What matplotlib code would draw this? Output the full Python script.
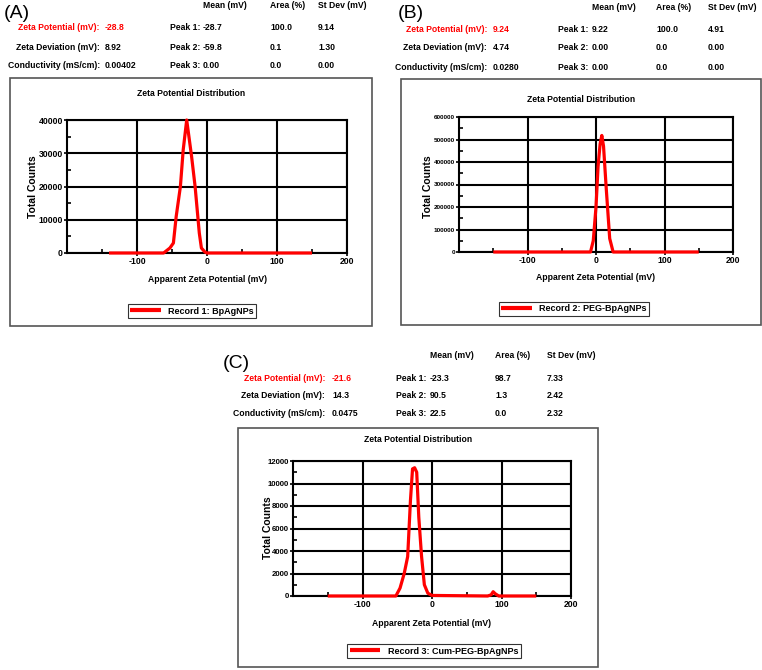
import matplotlib
matplotlib.use("Agg")
import matplotlib.pyplot as plt
from matplotlib.patches import Rectangle
from matplotlib.ticker import MultipleLocator

W, H = 762, 670
plt.rcParams["font.family"] = ["Liberation Sans", "DejaVu Sans"]
plt.rcParams["axes.unicode_minus"] = False

# --- data ---
mv_a = [-140, -62, -53, -48, -44, -38, -34, -29, -22, -17, -11, -8, -3, 0, 150]
counts_a = [0, 0, 1500, 3000, 11000, 20000, 31000, 40000, 29000, 20000, 6000, 1500, 300, 0, 0]

mv_b = [-150, -8, -4, 0, 3, 6, 8.5, 11, 15, 20, 25, 150]
counts_b = [0, 0, 50000, 200000, 380000, 480000, 518000, 470000, 280000, 60000, 0, 0]

mv_c = [-150, -52, -46, -40, -35, -31, -28, -25, -22, -19, -15, -11, -6, 0, 80, 85, 88, 91, 96, 150]
counts_c = [0, 0, 700, 2000, 3500, 8500, 11300, 11400, 11000, 7000, 3500, 1000, 250, 50, 0, 100, 380, 200, 0, 0]

record_names = ["Record 1: BpAgNPs", "Record 2: PEG-BpAgNPs", "Record 3: Cum-PEG-BpAgNPs"]
panel_tags = ["(A)", "(B)", "(C)"]
summary_labels = ["Zeta Potential (mV):", "Zeta Deviation (mV):", "Conductivity (mS/cm):"]
summary_vals = [["-28.8", "8.92", "0.00402"],
                ["9.24", "4.74", "0.0280"],
                ["-21.6", "14.3", "0.0475"]]
peak_mean = [["-28.7", "-59.8", "0.00"], ["9.22", "0.00", "0.00"], ["-23.3", "90.5", "22.5"]]
peak_area = [["100.0", "0.1", "0.0"], ["100.0", "0.0", "0.0"], ["98.7", "1.3", "0.0"]]
peak_sd = [["9.14", "1.30", "0.00"], ["4.91", "0.00", "0.00"], ["7.33", "2.42", "2.32"]]
ymax = [40000, 600000, 12000]
ystep = [10000, 100000, 2000]
tick_size = [6.2, 4.6, 5.6]

fig = plt.figure(figsize=(W / 100, H / 100), dpi=100)


def fx(x):
    return x / W


def fy(y):
    return 1 - y / H


def ftext(x, y, s, **kw):
    kw.setdefault("fontsize", 6.2)
    kw.setdefault("fontweight", "bold")
    kw.setdefault("va", "center")
    fig.text(fx(x), fy(y), s, **kw)


# layout in pixels: tag, text columns, box, axes, labels, legend
layouts = [
    dict(tag=(4, 14), hdr=6, rows=(28, 47, 66), lab_r=100, val=105, peak=170, mean=203, area=270, sd=318,
         box=(10, 78, 372, 326), title=93, ax=(67, 120, 347, 253), ylab=(33, 187), xlab=279, leg=(192, 311)),
    dict(tag=(398, 14), hdr=7, rows=(29, 48, 67), lab_r=487, val=493, peak=558, mean=592, area=656, sd=708,
         box=(401, 79, 761, 325), title=100, ax=(459, 117, 733, 252), ylab=(428, 187), xlab=278, leg=(574, 309)),
    dict(tag=(223, 364), hdr=355, rows=(378, 395, 413), lab_r=325, val=332, peak=396, mean=430, area=495, sd=547,
         box=(238, 428, 598, 667), title=439, ax=(293, 461, 571, 596), ylab=(268, 528), xlab=623, leg=(434, 651)),
]
series = [(mv_a, counts_a), (mv_b, counts_b), (mv_c, counts_c)]

for i, L in enumerate(layouts):
    ftext(L["tag"][0], L["tag"][1], panel_tags[i], fontsize=14, fontweight="normal")
    ftext(L["mean"], L["hdr"], "Mean (mV)")
    ftext(L["area"], L["hdr"], "Area (%)")
    ftext(L["sd"], L["hdr"], "St Dev (mV)")
    for r in range(3):
        col = "red" if r == 0 else "black"
        ftext(L["lab_r"], L["rows"][r], summary_labels[r], ha="right", color=col)
        ftext(L["val"], L["rows"][r], summary_vals[i][r], color=col)
        ftext(L["peak"], L["rows"][r], f"Peak {r + 1}:")
        ftext(L["mean"], L["rows"][r], peak_mean[i][r])
        ftext(L["area"], L["rows"][r], peak_area[i][r])
        ftext(L["sd"], L["rows"][r], peak_sd[i][r])

    x0, y0, x1, y1 = L["box"]
    fig.patches.append(Rectangle((fx(x0), fy(y1)), fx(x1 - x0), (y1 - y0) / H, transform=fig.transFigure,
                                 fill=False, edgecolor="#555555", linewidth=1.2))
    ftext((x0 + x1) / 2, L["title"], "Zeta Potential Distribution", ha="center")

    a0, b0, a1, b1 = L["ax"]
    ax = fig.add_axes([fx(a0), fy(b1), fx(a1 - a0), (b1 - b0) / H])
    mv, counts = series[i]
    line, = ax.plot(mv, counts, color="red", linewidth=2.3, solid_joinstyle="round",
                    solid_capstyle="butt", zorder=3, clip_on=False)
    ax.set_xlim(-200, 200)
    ax.set_ylim(0, ymax[i])
    ax.set_xticks([-100, 0, 100, 200])
    ax.xaxis.set_minor_locator(MultipleLocator(50))
    ax.yaxis.set_major_locator(MultipleLocator(ystep[i]))
    ax.yaxis.set_minor_locator(MultipleLocator(ystep[i] / 2))
    ax.grid(True, which="major", color="black", linewidth=1.5)
    for sp in ax.spines.values():
        sp.set_linewidth(1.5)
        sp.set_color("black")
    ax.tick_params(which="major", length=2, width=1.2, pad=1)
    ax.tick_params(axis="x", labelsize=6.2)
    ax.tick_params(axis="y", labelsize=tick_size[i])
    ax.tick_params(which="minor", direction="in", length=3, width=1.2)
    for lab in ax.get_xticklabels() + ax.get_yticklabels():
        lab.set_fontweight("bold")
    ax.set_axisbelow(True)

    fig.text(fx(L["ylab"][0]), fy(L["ylab"][1]), "Total Counts", rotation=90, ha="center", va="center",
             fontsize=7.5, fontweight="bold")
    ftext((a0 + a1) / 2, L["xlab"], "Apparent Zeta Potential (mV)", ha="center")

    leg = fig.legend([line], [record_names[i]], loc="center",
                     bbox_to_anchor=(fx(L["leg"][0]), fy(L["leg"][1])),
                     prop=dict(weight="bold", size=6.5), frameon=True, fancybox=False,
                     handlelength=3.4, borderpad=0.3, handletextpad=0.8)
    leg.get_frame().set_edgecolor("black")
    leg.get_frame().set_linewidth(0.8)
    leg.get_lines()[0].set_linewidth(3)

fig.savefig("out.png", dpi=100)
